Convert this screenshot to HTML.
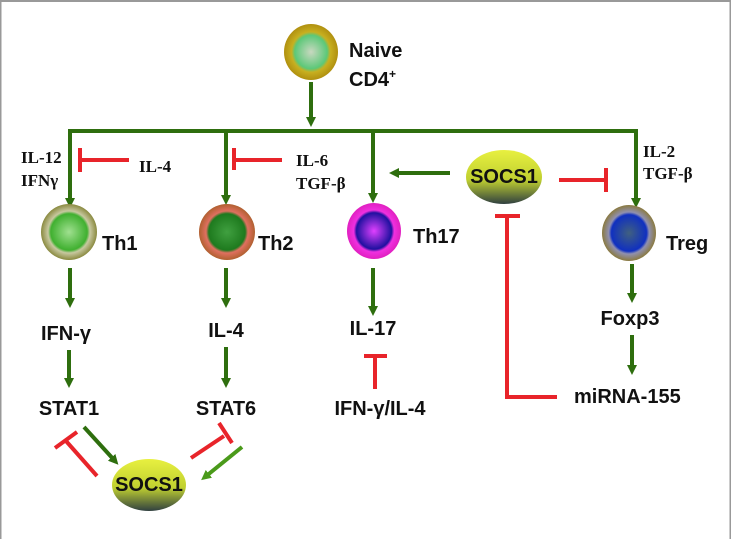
<!DOCTYPE html>
<html><head><meta charset="utf-8"><style>
html,body{margin:0;padding:0;background:#fff}
svg{display:block}
.s{font-family:"Liberation Sans",sans-serif;font-weight:bold;font-size:20px;fill:#111}
.r{font-family:"Liberation Serif",serif;font-weight:bold;font-size:17px;fill:#111}
</style></head><body>
<svg width="731" height="539" viewBox="0 0 731 539" xmlns="http://www.w3.org/2000/svg">
<defs>
<marker id="g" markerWidth="10" markerHeight="10" refX="5" refY="5" orient="auto" markerUnits="userSpaceOnUse" viewBox="0 0 10 10"><path d="M0,0 L10,5 L0,10 z" fill="#2e6e0e"/></marker>
<marker id="lg" markerWidth="10" markerHeight="10" refX="5" refY="5" orient="auto" markerUnits="userSpaceOnUse" viewBox="0 0 10 10"><path d="M0,0 L10,5 L0,10 z" fill="#4a9a1a"/></marker>
<radialGradient id="naive" cx="50%" cy="50%" r="50%"><stop offset="0" stop-color="#c8d8c0"/><stop offset="0.6" stop-color="#5cc878"/><stop offset="0.72" stop-color="#c8b020"/><stop offset="1" stop-color="#b09010"/></radialGradient>
<radialGradient id="th1" cx="50%" cy="50%" r="50%"><stop offset="0" stop-color="#a0e090"/><stop offset="0.65" stop-color="#40b030"/><stop offset="0.75" stop-color="#c8c8a0"/><stop offset="1" stop-color="#8a8a40"/></radialGradient>
<radialGradient id="th2" cx="50%" cy="50%" r="50%"><stop offset="0" stop-color="#40a040"/><stop offset="0.65" stop-color="#1e7a1e"/><stop offset="0.75" stop-color="#e07060"/><stop offset="1" stop-color="#b06030"/></radialGradient>
<radialGradient id="th17" cx="50%" cy="50%" r="50%"><stop offset="0" stop-color="#e040ff"/><stop offset="0.65" stop-color="#2010a0"/><stop offset="0.75" stop-color="#f030e0"/><stop offset="1" stop-color="#e020c0"/></radialGradient>
<radialGradient id="treg" cx="50%" cy="50%" r="50%"><stop offset="0" stop-color="#406080"/><stop offset="0.65" stop-color="#1030c0"/><stop offset="0.75" stop-color="#9090b0"/><stop offset="1" stop-color="#8a7a40"/></radialGradient>
<linearGradient id="socs" x1="0" y1="0" x2="0" y2="1"><stop offset="0" stop-color="#e8f040"/><stop offset="0.55" stop-color="#c0d030"/><stop offset="1" stop-color="#304040"/></linearGradient>
</defs>
<rect x="0.5" y="1" width="730" height="540" fill="none" stroke="#999" stroke-width="2"/>

<g stroke="#2e6e0e" stroke-width="4" fill="none">
<line x1="311" y1="82" x2="311" y2="122" marker-end="url(#g)"/>
<polyline points="70,203 70,131 636,131 636,203"/>
<line x1="70" y1="200" x2="70" y2="203" marker-end="url(#g)"/>
<line x1="636" y1="200" x2="636" y2="203" marker-end="url(#g)"/>
<line x1="226" y1="131" x2="226" y2="200" marker-end="url(#g)"/>
<line x1="373" y1="131" x2="373" y2="198" marker-end="url(#g)"/>
<line x1="450" y1="173" x2="394" y2="173" marker-end="url(#g)"/>
<line x1="70" y1="268" x2="70" y2="303" marker-end="url(#g)"/>
<line x1="69" y1="350" x2="69" y2="383" marker-end="url(#g)"/>
<line x1="226" y1="268" x2="226" y2="303" marker-end="url(#g)"/>
<line x1="226" y1="347" x2="226" y2="383" marker-end="url(#g)"/>
<line x1="373" y1="268" x2="373" y2="311" marker-end="url(#g)"/>
<line x1="632" y1="264" x2="632" y2="298" marker-end="url(#g)"/>
<line x1="632" y1="335" x2="632" y2="370" marker-end="url(#g)"/>
<line x1="84" y1="427" x2="115" y2="461" marker-end="url(#g)"/>
<line x1="242" y1="447" x2="205" y2="477" stroke="#4a9a1a" marker-end="url(#lg)"/>
</g>

<g stroke="#e8242a" stroke-width="4" fill="none">
<line x1="80" y1="148" x2="80" y2="172"/><line x1="80" y1="160" x2="129" y2="160"/>
<line x1="234" y1="148" x2="234" y2="170"/><line x1="234" y1="160" x2="282" y2="160"/>
<line x1="559" y1="180" x2="606" y2="180"/><line x1="606" y1="168" x2="606" y2="192"/>
<line x1="495" y1="216" x2="520" y2="216"/><polyline points="507,216 507,397 557,397"/>
<line x1="364" y1="356" x2="387" y2="356"/><line x1="375" y1="356" x2="375" y2="389"/>
<line x1="97" y1="476" x2="66" y2="441"/><line x1="55" y1="448" x2="77" y2="432"/>
<line x1="191" y1="458" x2="224" y2="436"/><line x1="219" y1="423" x2="232" y2="443"/>
</g>

<ellipse cx="311" cy="52" rx="27" ry="28" fill="url(#naive)"/>
<ellipse cx="69" cy="232" rx="28" ry="28" fill="url(#th1)"/>
<ellipse cx="227" cy="232" rx="28" ry="28" fill="url(#th2)"/>
<ellipse cx="374" cy="231" rx="27" ry="28" fill="url(#th17)"/>
<ellipse cx="629" cy="233" rx="27" ry="28" fill="url(#treg)"/>
<ellipse cx="504" cy="177" rx="38" ry="27" fill="url(#socs)"/>
<ellipse cx="149" cy="485" rx="37" ry="26" fill="url(#socs)"/>

<text class="s" x="349" y="57">Naive</text>
<text class="s" x="349" y="86">CD4<tspan font-size="12" dy="-8">+</tspan></text>
<text class="s" x="102" y="250">Th1</text>
<text class="s" x="258" y="250">Th2</text>
<text class="s" x="413" y="243">Th17</text>
<text class="s" x="666" y="250">Treg</text>
<text class="s" x="504" y="183" text-anchor="middle" font-size="15">SOCS1</text>
<text class="s" x="149" y="491" text-anchor="middle" font-size="15">SOCS1</text>
<text class="s" x="66" y="340" text-anchor="middle">IFN-γ</text>
<text class="s" x="69" y="415" text-anchor="middle">STAT1</text>
<text class="s" x="226" y="337" text-anchor="middle">IL-4</text>
<text class="s" x="226" y="415" text-anchor="middle">STAT6</text>
<text class="s" x="373" y="335" text-anchor="middle">IL-17</text>
<text class="s" x="380" y="415" text-anchor="middle">IFN-γ/IL-4</text>
<text class="s" x="630" y="325" text-anchor="middle">Foxp3</text>
<text class="s" x="574" y="403">miRNA-155</text>

<text class="r" x="21" y="163">IL-12</text>
<text class="r" x="21" y="186">IFNγ</text>
<text class="r" x="139" y="172">IL-4</text>
<text class="r" x="296" y="166">IL-6</text>
<text class="r" x="296" y="189">TGF-β</text>
<text class="r" x="643" y="157">IL-2</text>
<text class="r" x="643" y="179">TGF-β</text>
</svg>
</body></html>
